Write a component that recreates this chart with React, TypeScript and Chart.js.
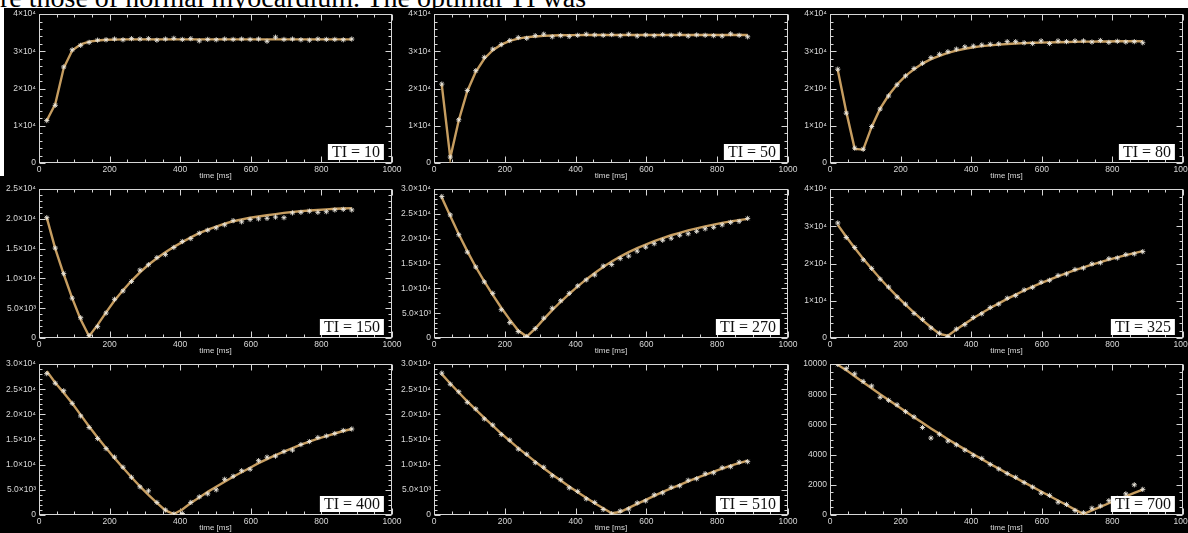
import React, { useEffect, useRef } from "react";
import { Chart, registerables } from "chart.js";

Chart.register(...registerables);

// ---------------- data ----------------
const captionText = "re those of normal myocardium. The optimal TI was";
const xTitle = "time [ms]";

const timeMs = [22, 46, 70, 94, 118, 142, 166, 190, 214, 238, 262, 286, 310, 334, 358, 382, 406, 430, 454, 478, 502, 526, 550, 574, 598, 622, 646, 670, 694, 718, 742, 766, 790, 814, 838, 862, 886];

const xTickValues = [0, 200, 400, 600, 800, 1000];
const xTickLabels = ["0", "200", "400", "600", "800", "1000"];

const yTicks40k = [0, 10000, 20000, 30000, 40000];
const yLabels40k = ["0", "1×10⁴", "2×10⁴", "3×10⁴", "4×10⁴"];
const yTicks25k = [0, 5000, 10000, 15000, 20000, 25000];
const yLabels25k = ["0", "5.0×10³", "1.0×10⁴", "1.5×10⁴", "2.0×10⁴", "2.5×10⁴"];
const yTicks30k = [0, 5000, 10000, 15000, 20000, 25000, 30000];
const yLabels30k = ["0", "5.0×10³", "1.0×10⁴", "1.5×10⁴", "2.0×10⁴", "2.5×10⁴", "3.0×10⁴"];
const yTicks10k = [0, 2000, 4000, 6000, 8000, 10000];
const yLabels10k = ["0", "2000", "4000", "6000", "8000", "10000"];

const tiLabels = ["TI = 10", "TI = 50", "TI = 80", "TI = 150", "TI = 270", "TI = 325", "TI = 400", "TI = 510", "TI = 700"];

const meas10 = [11400, 15500, 25800, 30400, 31600, 32400, 33000, 33100, 33300, 33100, 33400, 33300, 33400, 33000, 33300, 33500, 33200, 33400, 32800, 33200, 33100, 33300, 33200, 33300, 33200, 33300, 32700, 33800, 33200, 33300, 33100, 33000, 33300, 33200, 33200, 33100, 33300];
const fit10 = [11400, 15800, 25500, 30200, 31900, 32600, 32900, 33100, 33150, 33200, 33200, 33200, 33200, 33200, 33200, 33200, 33200, 33200, 33200, 33200, 33200, 33200, 33200, 33200, 33200, 33200, 33200, 33200, 33200, 33200, 33200, 33200, 33200, 33200, 33200, 33200, 33200];

const meas50 = [21200, 1600, 11600, 19500, 24800, 28400, 30600, 31800, 32900, 33700, 33500, 34200, 34600, 33900, 34200, 34000, 34300, 34600, 34400, 34300, 34500, 34200, 34600, 34100, 34400, 34200, 34500, 34300, 34600, 34100, 34400, 34300, 34200, 34100, 34700, 34300, 33900];
const fit50 = [21000, 1400, 11500, 19300, 24500, 28000, 30300, 31800, 32800, 33400, 33800, 34000, 34150, 34250, 34300, 34350, 34350, 34400, 34400, 34400, 34400, 34400, 34400, 34400, 34400, 34400, 34400, 34400, 34400, 34400, 34400, 34400, 34400, 34400, 34400, 34400, 34400];

const meas80 = [25200, 13400, 4000, 3700, 9800, 14500, 18000, 21000, 23400, 25400, 26800, 28300, 29200, 29900, 30600, 31200, 31400, 31700, 31900, 32000, 32600, 32600, 32300, 32100, 32800, 32100, 32800, 32600, 32800, 32800, 32500, 32900, 32400, 32700, 32500, 32600, 32300];
const fit80 = [25000, 13800, 3800, 3600, 9700, 14600, 18200, 21100, 23400, 25200, 26700, 27900, 28800, 29600, 30200, 30700, 31100, 31400, 31600, 31800, 31950, 32100, 32200, 32300, 32350, 32400, 32450, 32500, 32550, 32600, 32600, 32650, 32650, 32700, 32700, 32700, 32700];

const meas150 = [20200, 15100, 10800, 6700, 3400, 400, 1900, 4200, 6500, 7900, 9500, 11400, 12300, 13500, 14000, 15200, 16200, 16700, 17600, 18100, 18500, 19000, 19700, 19500, 19900, 20000, 20100, 20300, 20200, 21000, 21100, 21300, 21100, 21200, 21500, 21600, 21500];
const fit150 = [20200, 15000, 10700, 6700, 3100, 300, 2200, 4300, 6300, 8000, 9600, 11000, 12300, 13400, 14400, 15300, 16100, 16900, 17600, 18200, 18700, 19200, 19600, 19900, 20200, 20400, 20600, 20800, 21000, 21150, 21300, 21400, 21500, 21600, 21700, 21750, 21800];

const meas270 = [28500, 24800, 20800, 17300, 14300, 11300, 9000, 5700, 3100, 1300, 300, 1900, 4000, 6000, 7500, 9000, 10500, 11700, 12700, 14500, 14800, 16000, 16500, 17500, 18300, 19000, 19700, 20100, 20700, 21000, 21500, 22000, 22300, 22800, 23300, 23500, 24100];
const fit270 = [28300, 24600, 20900, 17500, 14300, 11400, 8700, 6100, 3700, 1500, 300, 1900, 3800, 5600, 7300, 8900, 10400, 11800, 13100, 14300, 15400, 16400, 17300, 18100, 18800, 19500, 20100, 20700, 21200, 21700, 22100, 22500, 22850, 23200, 23500, 23750, 24000];

const meas325 = [30900, 27000, 24300, 21000, 18700, 15800, 13700, 11000, 9100, 6600, 5000, 2700, 1300, 400, 2400, 3600, 5500, 6500, 8200, 9100, 10700, 11400, 12900, 13600, 15000, 15500, 16800, 17200, 18400, 18800, 19900, 20200, 21300, 21500, 22400, 22600, 23200];
const fit325 = [30400, 27210, 24180, 21310, 18580, 15980, 13510, 11170, 8940, 6830, 4820, 2900, 1100, 630, 2270, 3820, 5300, 6710, 8040, 9310, 10510, 11660, 12750, 13780, 14760, 15690, 16580, 17430, 18220, 18990, 19710, 20390, 21050, 21660, 22250, 22810, 23340];

const meas400 = [28100, 26200, 24700, 22200, 19700, 17400, 15200, 13200, 11500, 9500, 7500, 5600, 4800, 2500, 1000, 200, 300, 2500, 3600, 4200, 5000, 7100, 7700, 8800, 9100, 10800, 11500, 11700, 12600, 12900, 14000, 14600, 15400, 15700, 16200, 16800, 17100];
const fit400 = [28600, 26300, 24300, 22200, 19900, 17600, 15400, 13300, 11300, 9400, 7500, 5700, 4000, 2400, 900, 200, 1100, 2400, 3500, 4600, 5600, 6600, 7600, 8500, 9400, 10300, 11100, 11900, 12600, 13300, 14000, 14600, 15200, 15700, 16200, 16700, 17100];

const meas510 = [28200, 26000, 24500, 22400, 21100, 19100, 17900, 16000, 14900, 13100, 12100, 10400, 9500, 7800, 7000, 5400, 4700, 3200, 2500, 1100, 200, 800, 1200, 2400, 2800, 4000, 4400, 5500, 5800, 6900, 7200, 8200, 8400, 9400, 9600, 10500, 10600];
const fit510 = [28000, 26150, 24350, 22600, 20950, 19300, 17750, 16200, 14750, 13300, 11950, 10600, 9300, 8050, 6850, 5650, 4500, 3450, 2350, 1350, 350, 600, 1400, 2200, 3000, 3800, 4600, 5300, 6000, 6700, 7400, 8000, 8600, 9200, 9800, 10300, 10800];

const meas700 = [9980, 9700, 9350, 8850, 8550, 7800, 7600, 7300, 6850, 6500, 5800, 5100, 5350, 4900, 4650, 4300, 3950, 3750, 3350, 3050, 2750, 2500, 2150, 1850, 1450, 1300, 850, 700, 300, 150, 450, 600, 950, 1100, 1400, 2000, 1700];
const fit700 = [9950, 9600, 9200, 8800, 8400, 8000, 7620, 7240, 6860, 6480, 6110, 5740, 5380, 5020, 4680, 4350, 4020, 3700, 3380, 3070, 2760, 2460, 2160, 1860, 1560, 1260, 960, 660, 360, 60, 300, 540, 780, 1010, 1240, 1460, 1680];

// ---------------- panels ----------------
type PanelDef = {
  ti: string;
  meas: number[];
  fit: number[];
  yTicks: number[];
  yLabels: string[];
  yMinor: number;
};

const panels: PanelDef[] = [
  { ti: tiLabels[0], meas: meas10, fit: fit10, yTicks: yTicks40k, yLabels: yLabels40k, yMinor: 2000 },
  { ti: tiLabels[1], meas: meas50, fit: fit50, yTicks: yTicks40k, yLabels: yLabels40k, yMinor: 2000 },
  { ti: tiLabels[2], meas: meas80, fit: fit80, yTicks: yTicks40k, yLabels: yLabels40k, yMinor: 2000 },
  { ti: tiLabels[3], meas: meas150, fit: fit150, yTicks: yTicks25k, yLabels: yLabels25k, yMinor: 1000 },
  { ti: tiLabels[4], meas: meas270, fit: fit270, yTicks: yTicks30k, yLabels: yLabels30k, yMinor: 1000 },
  { ti: tiLabels[5], meas: meas325, fit: fit325, yTicks: yTicks40k, yLabels: yLabels40k, yMinor: 2000 },
  { ti: tiLabels[6], meas: meas400, fit: fit400, yTicks: yTicks30k, yLabels: yLabels30k, yMinor: 1000 },
  { ti: tiLabels[7], meas: meas510, fit: fit510, yTicks: yTicks30k, yLabels: yLabels30k, yMinor: 1000 },
  { ti: tiLabels[8], meas: meas700, fit: fit700, yTicks: yTicks10k, yLabels: yLabels10k, yMinor: 500 },
];

// plot-area geometry (page pixels)
const PLOT_COLS = [
  [39, 392],
  [434, 788],
  [830, 1183],
];
const PLOT_ROWS = [
  [14, 163],
  [189, 338],
  [364, 515],
];

const PAD_L = 40;
const PAD_T = 8;
const PAD_R = 14;
const X_H = 18;

const AXIS_COLOR = "#d6d6d6";
const TEXT_COLOR = "#d8d8d8";
const FIT_COLOR = "#c69d60";
const POINT_COLOR = "rgba(236,232,222,0.9)";
const SANS = "'Liberation Sans', Arial, sans-serif";

const idlFrame = {
  id: "idlFrame",
  beforeDatasetsDraw(chart: any, _args: any, opts: any) {
    const { ctx, chartArea } = chart;
    const xs = chart.scales.x;
    const ys = chart.scales.y;
    const L = Math.round(chartArea.left) + 0.5;
    const R = Math.round(chartArea.right) - 0.5;
    const T = Math.round(chartArea.top) + 0.5;
    const B = Math.round(chartArea.bottom) - 0.5;
    ctx.save();
    ctx.strokeStyle = opts.color;
    ctx.lineWidth = 1;
    ctx.strokeRect(L, T, R - L, B - T);
    ctx.beginPath();
    const isMajor = (v: number, step: number) => Math.abs(v / step - Math.round(v / step)) < 1e-6;
    for (let v = xs.min; v <= xs.max + 1e-6; v += opts.xMinor) {
      const len = isMajor(v, opts.xMajor) ? 6 : 3;
      const px = Math.round(xs.getPixelForValue(v)) + 0.5;
      ctx.moveTo(px, B);
      ctx.lineTo(px, B - len);
      ctx.moveTo(px, T);
      ctx.lineTo(px, T + len);
    }
    for (let v = ys.min; v <= ys.max + 1e-6; v += opts.yMinor) {
      const len = isMajor(v, opts.yMajor) ? 6 : 3;
      const py = Math.round(ys.getPixelForValue(v)) + 0.5;
      ctx.moveTo(L, py);
      ctx.lineTo(L + len, py);
      ctx.moveTo(R, py);
      ctx.lineTo(R - len, py);
    }
    ctx.stroke();
    ctx.restore();
  },
};

function Panel({ def, col, row }: { def: PanelDef; col: number; row: number }) {
  const ref = useRef<HTMLCanvasElement>(null);
  const [left, right] = PLOT_COLS[col];
  const [top, bottom] = PLOT_ROWS[row];
  const w = right - left + PAD_L + PAD_R;
  const h = bottom - top + PAD_T + X_H;

  useEffect(() => {
    const yMax = def.yTicks[def.yTicks.length - 1];
    const yMajor = def.yTicks[1] - def.yTicks[0];
    const chart = new Chart(ref.current as HTMLCanvasElement, {
      type: "line",
      data: {
        datasets: [
          {
            label: "measured",
            data: timeMs.map((t, i) => ({ x: t, y: def.meas[i] })),
            showLine: false,
            pointStyle: "star",
            pointRadius: 2.6,
            pointBorderWidth: 1,
            pointBorderColor: POINT_COLOR,
            pointBackgroundColor: POINT_COLOR,
            borderColor: POINT_COLOR,
            order: 0,
          },
          {
            label: "fit",
            data: timeMs.map((t, i) => ({ x: t, y: def.fit[i] })),
            borderColor: FIT_COLOR,
            borderWidth: 2.4,
            pointRadius: 0,
            tension: 0,
            fill: false,
            order: 1,
          },
        ],
      },
      options: {
        animation: false,
        responsive: false,
        devicePixelRatio: 1,
        events: [],
        layout: { autoPadding: false, padding: { top: PAD_T, right: PAD_R, left: 0, bottom: 0 } },
        plugins: {
          legend: { display: false },
          tooltip: { enabled: false },
          idlFrame: { color: AXIS_COLOR, xMajor: 200, xMinor: 50, yMajor, yMinor: def.yMinor },
        } as any,
        scales: {
          x: {
            type: "linear",
            min: 0,
            max: 1000,
            afterBuildTicks: (axis: any) => {
              axis.ticks = xTickValues.map((v) => ({ value: v }));
            },
            afterFit: (axis: any) => {
              axis.height = X_H;
            },
            ticks: {
              color: TEXT_COLOR,
              font: { family: SANS, size: 8.5 },
              padding: 2,
              maxRotation: 0,
              autoSkip: false,
              callback: (_v: any, i: number) => xTickLabels[i],
            },
            grid: { display: false, drawTicks: false },
            border: { display: false },
            title: {
              display: true,
              text: xTitle,
              color: TEXT_COLOR,
              font: { family: SANS, size: 8 },
              padding: 0,
            },
          },
          y: {
            type: "linear",
            min: 0,
            max: yMax,
            afterBuildTicks: (axis: any) => {
              axis.ticks = def.yTicks.map((v) => ({ value: v }));
            },
            afterFit: (axis: any) => {
              axis.width = PAD_L;
            },
            ticks: {
              color: TEXT_COLOR,
              font: { family: SANS, size: 8.5 },
              padding: 3,
              autoSkip: false,
              callback: (_v: any, i: number) => def.yLabels[i],
            },
            grid: { display: false, drawTicks: false },
            border: { display: false },
          },
        },
      } as any,
      plugins: [idlFrame],
    });
    return () => chart.destroy();
  }, []);

  return (
    <>
      <canvas
        ref={ref}
        width={w}
        height={h}
        style={{ position: "absolute", left: left - PAD_L, top: top - PAD_T, width: w, height: h }}
      />
      <div
        style={{
          position: "absolute",
          left: right - 8,
          top: bottom - 3,
          transform: "translate(-100%, -100%)",
          background: "#ffffff",
          color: "#111",
          fontFamily: "'Liberation Serif', 'Times New Roman', serif",
          fontSize: 16,
          lineHeight: "16px",
          padding: "0 4px",
          whiteSpace: "pre",
        }}
      >
        {def.ti}
      </div>
    </>
  );
}

export default function App() {
  return (
    <div
      style={{
        position: "fixed",
        left: 0,
        top: 0,
        width: 1188,
        height: 533,
        overflow: "hidden",
        background: "#ffffff",
      }}
    >
      <div
        style={{
          position: "absolute",
          left: 0,
          top: -16,
          fontFamily: "'Liberation Serif', 'Times New Roman', serif",
          fontSize: 28,
          lineHeight: "28px",
          color: "#000",
          whiteSpace: "pre",
        }}
      >
        {captionText}
      </div>
      <div style={{ position: "absolute", left: 0, top: 8, width: 1188, height: 525, background: "#000" }} />
      <div style={{ position: "absolute", left: 0, top: 8, width: 4, height: 168, background: "#ffffff" }} />
      {panels.map((def, i) => (
        <Panel key={i} def={def} col={i % 3} row={Math.floor(i / 3)} />
      ))}
    </div>
  );
}
